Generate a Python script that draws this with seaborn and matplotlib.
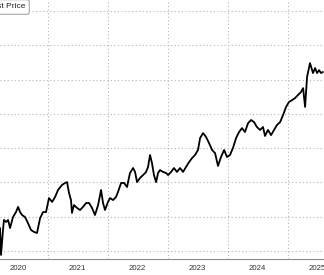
import matplotlib
matplotlib.use("Agg")
import matplotlib.pyplot as plt
import matplotlib.dates as mdates
from matplotlib.ticker import FuncFormatter
import pandas as pd
import seaborn as sns

series_name = "Last Price"

dates = [
    "2020-03-15", "2020-03-21", "2020-04-02", "2020-04-08", "2020-04-21", "2020-05-03",
    "2020-05-15", "2020-06-02", "2020-06-20", "2020-07-03", "2020-07-15", "2020-07-27",
    "2020-08-14", "2020-09-01", "2020-09-20", "2020-10-08", "2020-10-26", "2020-11-14",
    "2020-12-02", "2020-12-20", "2021-01-07", "2021-01-26", "2021-02-13", "2021-03-03",
    "2021-03-27", "2021-04-15", "2021-04-27", "2021-05-09", "2021-05-21", "2021-05-27",
    "2021-06-08", "2021-06-27", "2021-07-15", "2021-08-02", "2021-08-21", "2021-09-08",
    "2021-09-26", "2021-10-14", "2021-11-02", "2021-11-20", "2021-12-02", "2021-12-14",
    "2022-01-01", "2022-01-14", "2022-02-01", "2022-02-19", "2022-03-03", "2022-03-22",
    "2022-04-09", "2022-04-27", "2022-05-15", "2022-06-03", "2022-06-15", "2022-06-27",
    "2022-07-15", "2022-08-03", "2022-08-21", "2022-09-02", "2022-09-14", "2022-09-26",
    "2022-10-08", "2022-10-21", "2022-11-02", "2022-11-14", "2022-12-02", "2022-12-21",
    "2023-01-02", "2023-01-20", "2023-02-07", "2023-02-25", "2023-03-16", "2023-04-03",
    "2023-04-21", "2023-05-10", "2023-05-28", "2023-06-15", "2023-07-03", "2023-07-16",
    "2023-08-03", "2023-08-21", "2023-09-08", "2023-09-27", "2023-10-15", "2023-11-02",
    "2023-11-20", "2023-12-09", "2023-12-27", "2024-01-14", "2024-02-01", "2024-02-20",
    "2024-03-09", "2024-03-27", "2024-04-14", "2024-05-03", "2024-05-21", "2024-06-08",
    "2024-06-26", "2024-07-15", "2024-08-02", "2024-08-14", "2024-09-01", "2024-09-20",
    "2024-10-08", "2024-10-26", "2024-11-14", "2024-12-02", "2024-12-20", "2025-01-07",
    "2025-01-26", "2025-02-13", "2025-03-03", "2025-03-21", "2025-04-03", "2025-04-15",
    "2025-04-27", "2025-05-15", "2025-06-02", "2025-06-15", "2025-06-27", "2025-07-09",
    "2025-07-21", "2025-08-02",
]

prices = [
    53.4, 37.7, 52.2, 58.1, 56.9, 58.1,
    53.4, 59.8, 62.7, 65.7, 62.7, 61.0,
    59.8, 56.3, 52.2, 51.1, 50.5, 59.2,
    62.7, 62.7, 70.9, 68.6, 71.5, 75.6,
    78.5, 79.7, 80.2, 73.8, 69.7, 62.2,
    66.8, 65.1, 63.9, 65.7, 68.0, 68.0,
    65.1, 61.0, 66.8, 75.6, 68.0, 63.9,
    68.6, 70.9, 69.7, 71.5, 74.4, 79.7,
    79.7, 77.3, 85.5, 88.4, 86.1, 80.2,
    82.6, 84.3, 86.1, 89.0, 96.0, 91.3,
    84.3, 80.2, 85.5, 87.2, 86.1, 85.5,
    84.3, 86.1, 88.4, 86.1, 88.4, 86.1,
    89.0, 91.9, 94.2, 96.0, 98.9, 105.9,
    108.8, 106.5, 103.0, 98.9, 97.1, 89.6,
    94.8, 98.9, 94.8, 96.0, 100.1, 105.9,
    109.4, 111.7, 109.4, 114.6, 116.4, 115.2,
    112.3, 110.6, 112.3, 107.1, 110.6, 107.6,
    110.6, 113.5, 115.2, 119.3, 124.0, 126.9,
    128.0, 129.2, 131.0, 132.7, 135.0, 124.0,
    141.5, 149.6, 143.8, 146.7, 143.8, 145.5,
    143.8, 144.4,
]

grid_levels = [40, 60, 80, 100, 120, 140, 160, 180]

df = pd.DataFrame({"date": pd.to_datetime(dates), "price": prices})

sns.set_style("white")
plt.rcParams["font.family"] = ["Liberation Sans", "DejaVu Sans"]

W, H = 324, 275
fig = plt.figure(figsize=(W / 100, H / 100), dpi=100)
fig.patch.set_facecolor("white")
ax = fig.add_axes([0, 16 / H, 1, 259 / H])

sns.lineplot(data=df, x="date", y="price", color="black", linewidth=1.3,
             ax=ax, legend=False, label=series_name)

px_days = 365.25 / 60
anchor = pd.Timestamp("2021-01-01")
ax.set_xlim(anchor - pd.Timedelta(days=48 * px_days),
            anchor + pd.Timedelta(days=276 * px_days))
ax.set_ylim(35.33, 186.4)

ax.set_xlabel("")
ax.set_ylabel("")

# y grid
ax.set_yticks(grid_levels)
ax.tick_params(axis="y", length=0, labelleft=False, labelright=False)

# x ticks
ax.xaxis.set_major_locator(mdates.YearLocator())
ax.xaxis.set_major_formatter(FuncFormatter(lambda v, p: ""))
ax.xaxis.set_minor_locator(mdates.MonthLocator(bymonth=[4, 7, 10]))


def minor_fmt(v, p):
    d = mdates.num2date(v)
    return str(d.year) if d.month == 7 else ""


ax.xaxis.set_minor_formatter(FuncFormatter(minor_fmt))
ax.tick_params(axis="x", which="major", length=14, width=0.8, color="#b8b8b8")
ax.tick_params(axis="x", which="minor", length=2.5, width=0.7, color="#555555",
               labelsize=5.6, labelcolor="#333333", pad=2.0)

ax.grid(True, which="major", axis="both", linestyle=(0, (1, 2.2)),
        color="#b5b5b5", linewidth=0.8)

for s in ["top", "left", "right"]:
    ax.spines[s].set_visible(False)
ax.spines["bottom"].set_color("#8c8c8c")
ax.spines["bottom"].set_linewidth(0.8)

# legend box (partially cropped at left edge, as in the reference)
fig.text(25.5 / W, 1 - 7 / H, series_name, ha="right", va="center",
         fontsize=6.0, color="#222222",
         bbox=dict(boxstyle="round,pad=0.45,rounding_size=0.25", fc="white",
                   ec="#9a9a9a", lw=0.7))

fig.savefig("out.png", dpi=100, facecolor="white")
